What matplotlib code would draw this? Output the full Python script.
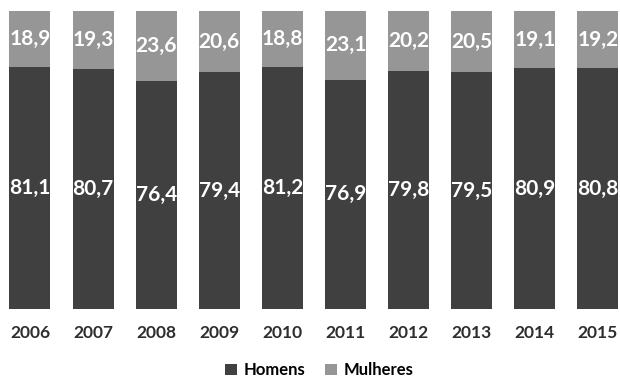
import numpy as np
import matplotlib
matplotlib.use("Agg")
import matplotlib.pyplot as plt

years = ["2006", "2007", "2008", "2009", "2010", "2011", "2012", "2013", "2014", "2015"]
homens = [81.1, 80.7, 76.4, 79.4, 81.2, 76.9, 79.8, 79.5, 80.9, 80.8]
mulheres = [18.9, 19.3, 23.6, 20.6, 18.8, 23.1, 20.2, 20.5, 19.1, 19.2]

dark = "#404040"
light = "#969696"

plt.rcParams["font.family"] = ["Lato", "DejaVu Sans"]

fig = plt.figure(figsize=(6.2, 3.81), dpi=100)
ax = fig.add_axes([0, 0.189, 1, 0.782])

x = np.arange(len(years))
ax.bar(x, homens, width=0.65, color=dark, label="Homens")
ax.bar(x, mulheres, width=0.65, bottom=homens, color=light, label="Mulheres")

fmt = lambda v: f"{v:.1f}".replace(".", ",")
for i in range(len(years)):
    ax.text(x[i], homens[i] / 2, fmt(homens[i]), ha="center", va="center",
            color="white", fontsize=15, fontweight="bold")
    ax.text(x[i], homens[i] + mulheres[i] / 2, fmt(mulheres[i]), ha="center",
            va="center", color="white", fontsize=15, fontweight="bold")
    ax.text(x[i], -8, years[i], ha="center", va="center", color="#2e2e2e",
            fontsize=12.5, fontweight="bold")

ax.set_xlim(-0.475, 9.35)
ax.set_ylim(0, 100)
ax.axis("off")

fig.legend(loc="center", bbox_to_anchor=(0.515, 0.028), ncol=2, frameon=False,
           prop={"size": 12, "weight": "bold"}, handlelength=0.7, handleheight=0.7,
           columnspacing=1.2, handletextpad=0.4)

fig.savefig("out.png", dpi=100)
